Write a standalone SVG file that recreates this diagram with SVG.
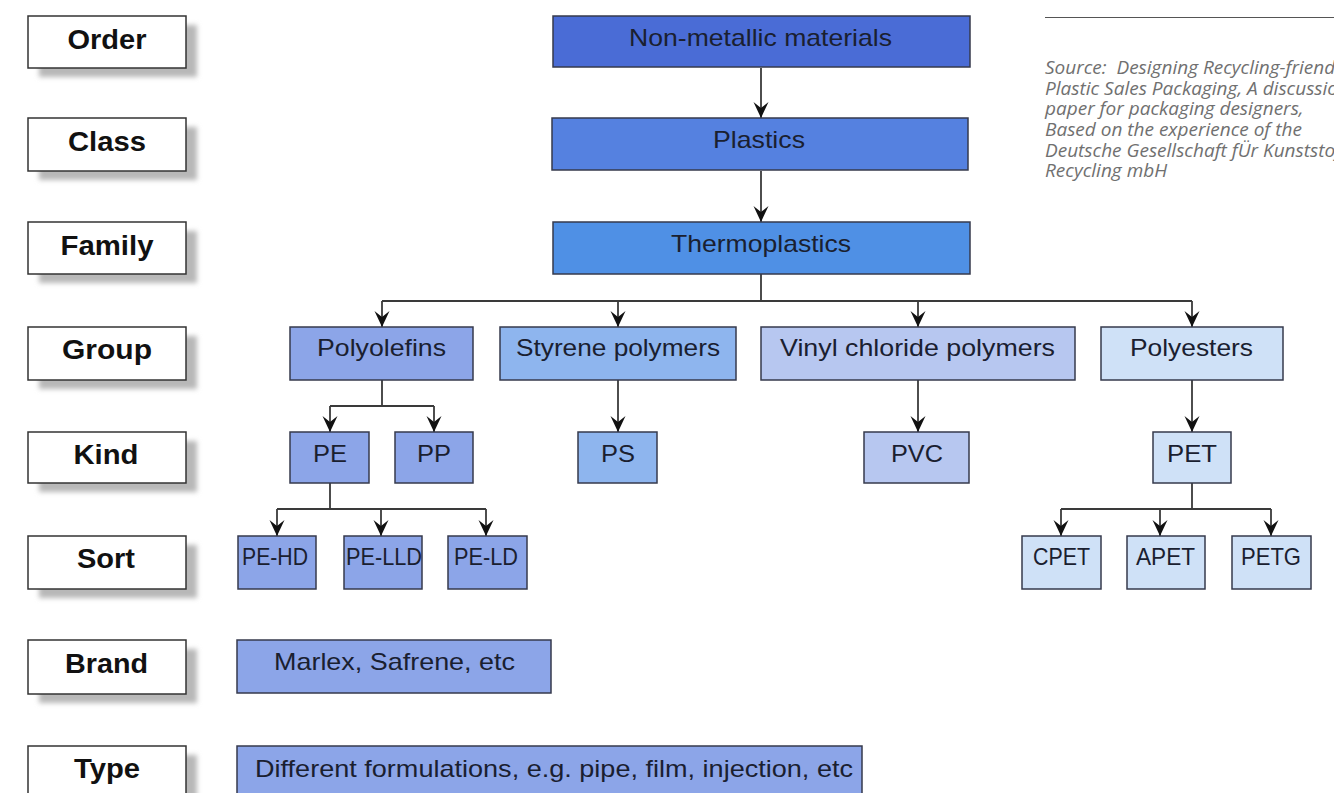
<svg xmlns="http://www.w3.org/2000/svg" width="1334" height="793" viewBox="0 0 1334 793">
<defs>
<filter id="sh" x="-20%" y="-40%" width="140%" height="180%"><feGaussianBlur stdDeviation="2.5"/></filter>
<marker id="ah" markerUnits="userSpaceOnUse" viewBox="0 0 16 16" markerWidth="16" markerHeight="16" refX="16" refY="8" orient="auto">
<path d="M0,0.5 L16,8 L0,15.5 L6,8 Z" fill="#111"/>
</marker>
</defs>
<style>
.lbl rect.b{fill:#fff;stroke:#333;stroke-width:1.5}
.lbl rect.s{fill:#b8b8b8;filter:url(#sh)}
.lbl text{font-family:"Liberation Sans",Arial,sans-serif;font-weight:bold;font-size:27px;fill:#111;text-anchor:middle}
.n rect{stroke:#363a4c;stroke-width:1.5}
.n text{font-family:"Liberation Sans",Arial,sans-serif;font-size:24px;fill:#1a2030;text-anchor:middle}
.c1{fill:#4a6cd6}.c2{fill:#5581e0}.c3{fill:#4f90e5}
.c4{fill:#8ca5e8}.c5{fill:#8eb5ee}.c6{fill:#b7c7f0}.c7{fill:#cfe1f7}
#connectors path{fill:none;stroke:#3a3a3a;stroke-width:1.8}
#connectors path.a{marker-end:url(#ah)}
.src{font-family:"Open Sans",sans-serif;font-style:italic;font-size:19px;fill:#707070}
</style>
<rect width="1334" height="793" fill="#fff"/>

<g id="labels">
<g id="lbl-order" class="lbl"><rect class="s" x="39" y="25" width="158" height="52"/><rect class="b" x="28" y="16" width="158" height="52"/><text x="107" y="48.5" textLength="79" lengthAdjust="spacingAndGlyphs">Order</text></g>
<g id="lbl-class" class="lbl"><rect class="s" x="39" y="127" width="158" height="53"/><rect class="b" x="28" y="118" width="158" height="53"/><text x="107" y="150.5" textLength="78" lengthAdjust="spacingAndGlyphs">Class</text></g>
<g id="lbl-family" class="lbl"><rect class="s" x="39" y="231" width="158" height="52"/><rect class="b" x="28" y="222" width="158" height="52"/><text x="107" y="254.5" textLength="93" lengthAdjust="spacingAndGlyphs">Family</text></g>
<g id="lbl-group" class="lbl"><rect class="s" x="39" y="336" width="158" height="53"/><rect class="b" x="28" y="327" width="158" height="53"/><text x="107" y="359" textLength="90" lengthAdjust="spacingAndGlyphs">Group</text></g>
<g id="lbl-kind" class="lbl"><rect class="s" x="39" y="441" width="158" height="51"/><rect class="b" x="28" y="432" width="158" height="51"/><text x="106" y="464" textLength="65" lengthAdjust="spacingAndGlyphs">Kind</text></g>
<g id="lbl-sort" class="lbl"><rect class="s" x="39" y="545" width="158" height="53"/><rect class="b" x="28" y="536" width="158" height="53"/><text x="106" y="568" textLength="58" lengthAdjust="spacingAndGlyphs">Sort</text></g>
<g id="lbl-brand" class="lbl"><rect class="s" x="39" y="649" width="158" height="54"/><rect class="b" x="28" y="640" width="158" height="54"/><text x="106.5" y="673" textLength="83" lengthAdjust="spacingAndGlyphs">Brand</text></g>
<g id="lbl-type" class="lbl"><rect class="s" x="39" y="755" width="158" height="53"/><rect class="b" x="28" y="746" width="158" height="53"/><text x="107" y="778" textLength="66" lengthAdjust="spacingAndGlyphs">Type</text></g>
</g>

<g id="connectors">
<path class="a" d="M761,68 V118"/>
<path class="a" d="M761,171 V222"/>
<path d="M761,274 V301 M382,301 H1192"/>
<path class="a" d="M382,301 V327"/>
<path class="a" d="M618,301 V327"/>
<path class="a" d="M918,301 V327"/>
<path class="a" d="M1192,301 V327"/>
<path d="M382,380 V406 M330,406 H434"/>
<path class="a" d="M330,406 V432"/>
<path class="a" d="M434,406 V432"/>
<path class="a" d="M618,380 V432"/>
<path class="a" d="M918,380 V432"/>
<path class="a" d="M1192,380 V432"/>
<path d="M330,483 V509 M277,509 H486"/>
<path class="a" d="M277,509 V536"/>
<path class="a" d="M381,509 V536"/>
<path class="a" d="M486,509 V536"/>
<path d="M1192,483 V509 M1061,509 H1271"/>
<path class="a" d="M1061,509 V536"/>
<path class="a" d="M1160,509 V536"/>
<path class="a" d="M1271,509 V536"/>
</g>

<g id="n-nonmetallic" class="n"><rect class="c1" x="553" y="16" width="417" height="51"/><text x="760.5" y="45.5" textLength="263" lengthAdjust="spacingAndGlyphs">Non-metallic materials</text></g>
<g id="n-plastics" class="n"><rect class="c2" x="552" y="118" width="416" height="52"/><text x="759" y="147.5" textLength="92" lengthAdjust="spacingAndGlyphs">Plastics</text></g>
<g id="n-thermoplastics" class="n"><rect class="c3" x="553" y="222" width="417" height="52"/><text x="761" y="251.5" textLength="180" lengthAdjust="spacingAndGlyphs">Thermoplastics</text></g>

<g id="n-polyolefins" class="n"><rect class="c4" x="290" y="327" width="183" height="53"/><text x="381.5" y="356" textLength="129" lengthAdjust="spacingAndGlyphs">Polyolefins</text></g>
<g id="n-styrene" class="n"><rect class="c5" x="500" y="327" width="236" height="53"/><text x="618" y="356" textLength="204" lengthAdjust="spacingAndGlyphs">Styrene polymers</text></g>
<g id="n-vinyl" class="n"><rect class="c6" x="761" y="327" width="314" height="53"/><text x="917.5" y="356" textLength="275" lengthAdjust="spacingAndGlyphs">Vinyl chloride polymers</text></g>
<g id="n-polyesters" class="n"><rect class="c7" x="1101" y="327" width="182" height="53"/><text x="1191.5" y="356" textLength="123" lengthAdjust="spacingAndGlyphs">Polyesters</text></g>

<g id="n-pe" class="n"><rect class="c4" x="290" y="432" width="79" height="51"/><text x="330" y="462" textLength="34" lengthAdjust="spacingAndGlyphs">PE</text></g>
<g id="n-pp" class="n"><rect class="c4" x="395" y="432" width="78" height="51"/><text x="434" y="462" textLength="34" lengthAdjust="spacingAndGlyphs">PP</text></g>
<g id="n-ps" class="n"><rect class="c5" x="578" y="432" width="79" height="51"/><text x="618" y="462" textLength="34" lengthAdjust="spacingAndGlyphs">PS</text></g>
<g id="n-pvc" class="n"><rect class="c6" x="864" y="432" width="105" height="51"/><text x="917" y="462" textLength="52" lengthAdjust="spacingAndGlyphs">PVC</text></g>
<g id="n-pet" class="n"><rect class="c7" x="1153" y="432" width="78" height="51"/><text x="1192" y="462" textLength="50" lengthAdjust="spacingAndGlyphs">PET</text></g>

<g id="n-pehd" class="n"><rect class="c4" x="238" y="536" width="78" height="53"/><text x="275" y="565" textLength="66" lengthAdjust="spacingAndGlyphs">PE-HD</text></g>
<g id="n-pelld" class="n"><rect class="c4" x="344" y="536" width="78" height="53"/><text x="384" y="565" textLength="76" lengthAdjust="spacingAndGlyphs">PE-LLD</text></g>
<g id="n-peld" class="n"><rect class="c4" x="448" y="536" width="79" height="53"/><text x="486" y="565" textLength="64" lengthAdjust="spacingAndGlyphs">PE-LD</text></g>
<g id="n-cpet" class="n"><rect class="c7" x="1022" y="536" width="79" height="53"/><text x="1061.5" y="565" textLength="57" lengthAdjust="spacingAndGlyphs">CPET</text></g>
<g id="n-apet" class="n"><rect class="c7" x="1127" y="536" width="78" height="53"/><text x="1165.5" y="565" textLength="59" lengthAdjust="spacingAndGlyphs">APET</text></g>
<g id="n-petg" class="n"><rect class="c7" x="1232" y="536" width="79" height="53"/><text x="1271" y="565" textLength="60" lengthAdjust="spacingAndGlyphs">PETG</text></g>

<g id="n-brand" class="n"><rect class="c4" x="237" y="640" width="314" height="53"/><text x="394.5" y="670" textLength="241" lengthAdjust="spacingAndGlyphs">Marlex, Safrene, etc</text></g>
<g id="n-type" class="n"><rect class="c4" x="237" y="746" width="625" height="53"/><text x="554" y="777" textLength="598" lengthAdjust="spacingAndGlyphs">Different formulations, e.g. pipe, film, injection, etc</text></g>

<g id="source">
<line x1="1045" y1="17.5" x2="1334" y2="17.5" stroke="#555" stroke-width="1"/>
<text class="src" x="1045" y="74" xml:space="preserve">Source:  Designing Recycling-friendly</text>
<text class="src" x="1045" y="94.5">Plastic Sales Packaging, A discussion</text>
<text class="src" x="1045" y="115">paper for packaging designers,</text>
<text class="src" x="1045" y="136">Based on the experience of the</text>
<text class="src" x="1045" y="156.5">Deutsche Gesellschaft fÜr Kunststoff-</text>
<text class="src" x="1045" y="177">Recycling mbH</text>
</g>
</svg>
